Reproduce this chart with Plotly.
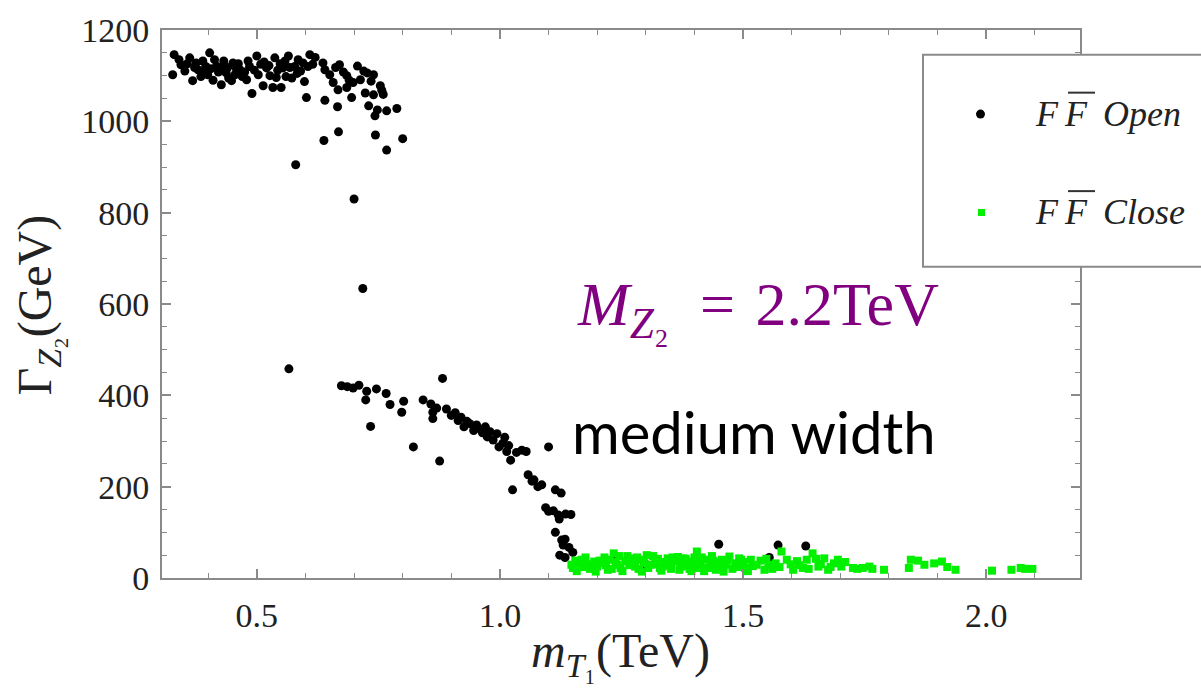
import plotly.graph_objects as go

# ---- data: top-partner mass m_T1 (TeV) vs Z2 width (GeV) ----
open_m = [
    0.330, 0.327, 0.344, 0.352, 0.362, 0.368, 0.372, 0.379, 0.385, 0.389,
    0.395, 0.403, 0.399, 0.410, 0.417, 0.421, 0.427, 0.432, 0.437, 0.442,
    0.451, 0.448, 0.458, 0.465, 0.470, 0.479, 0.485, 0.490, 0.500, 0.503,
    0.508, 0.513, 0.520, 0.527, 0.533, 0.537, 0.543, 0.550, 0.554, 0.560,
    0.565, 0.572, 0.578, 0.585, 0.590, 0.598, 0.602, 0.609, 0.615, 0.580,
    0.636, 0.640, 0.638, 0.640, 0.650, 0.657, 0.662, 0.667, 0.666, 0.668,
    0.670, 0.678, 0.685, 0.685, 0.690, 0.695, 0.698, 0.700, 0.707, 0.713,
    0.718, 0.720, 0.723, 0.727, 0.730, 0.735, 0.740, 0.740, 0.743, 0.744,
    0.748, 0.754, 0.757, 0.760, 0.767, 0.767, 0.788, 0.800,
    0.340, 0.357, 0.375, 0.392, 0.405, 0.413, 0.425, 0.440, 0.455, 0.462,
    0.475, 0.482, 0.495, 0.515, 0.525, 0.540, 0.548, 0.558, 0.568, 0.583,
    0.595, 0.605, 0.620,
    0.566, 0.674, 0.686, 0.698, 0.710, 0.726, 0.746, 0.724, 0.734, 0.766,
    0.774, 0.802, 0.798, 0.822, 0.842, 0.858, 0.862, 0.862, 0.876, 0.882,
    0.870, 0.890, 0.900, 0.908, 0.914, 0.920, 0.926, 0.932, 0.938, 0.946,
    0.952, 0.958, 0.964, 0.970, 0.974, 0.980, 0.986, 0.994, 0.998, 1.006,
    1.010, 1.014, 1.018, 1.022, 1.026, 1.034, 1.045, 1.054, 1.100, 1.058,
    1.066, 1.070, 1.078, 1.086, 1.094, 1.100, 1.110, 1.114, 1.126, 1.120,
    1.135, 1.146, 1.122, 1.114, 1.127, 1.134, 1.130, 1.142, 1.134, 1.150,
    1.123, 1.450, 1.572, 1.629, 1.554, 1.234, 1.380, 1.300,
]
open_width = [
    1146, 1102, 1124, 1110, 1139, 1089, 1118, 1113, 1098, 1132,
    1120, 1150, 1102, 1090, 1121, 1108, 1080, 1132, 1106, 1095,
    1128, 1089, 1115, 1113, 1098, 1091, 1120, 1061, 1143, 1102,
    1125, 1078, 1117, 1100, 1074, 1139, 1112, 1074, 1117, 1098,
    1143, 1095, 1120, 1135, 1110, 1087, 1052, 1146, 1125, 905,
    1128, 1113, 958, 1046, 1102, 1085, 1118, 1069, 1032, 977,
    1124, 1108, 1100, 1074, 1090, 1052, 1085, 830, 1121, 1091,
    634, 1110, 1062, 1106, 1034, 1088, 1102, 1058, 1012, 970,
    1025, 1078, 1068, 1059, 1023, 937, 1028, 962,
    1135, 1126, 1128, 1108, 1115, 1135, 1118, 1118, 1102, 1126,
    1108, 1132, 1112, 1130, 1122, 1096, 1126, 1132, 1118, 1105,
    1128, 1120, 1140,
    458, 421, 419, 416, 422, 409, 414, 390, 332, 404,
    380, 387, 363, 287, 390, 381, 363, 349, 256, 437,
    372, 370, 356, 362, 345, 352, 331, 343, 338, 323,
    335, 327, 318, 331, 309, 320, 302, 316, 287, 295,
    308, 277, 290, 258, 193, 275, 280, 277, 287, 226,
    212, 215, 200, 204, 154, 146, 147, 193, 186, 138,
    140, 139, 129, 100, 83, 85, 72, 67, 45, 56,
    50, 74, 72, 70, 45, 43, 38, 30,
]

close_m = [
    1.147, 1.163, 1.179, 1.194, 1.210, 1.226, 1.234, 1.242, 1.258, 1.270,
    1.278, 1.290, 1.302, 1.310, 1.321, 1.329, 1.345, 1.349, 1.361, 1.369,
    1.377, 1.385, 1.397, 1.405, 1.409, 1.425, 1.433, 1.444, 1.456, 1.464,
    1.472, 1.484, 1.492, 1.504, 1.516, 1.528, 1.544, 1.552, 1.567, 1.579,
    1.603, 1.611, 1.623, 1.631, 1.643, 1.655, 1.667, 1.675, 1.687, 1.702,
    1.726, 1.746, 1.766, 1.790, 1.845, 1.841, 1.873, 1.893, 1.909, 1.937,
    2.012, 2.052, 2.071, 2.095,
    1.150, 1.168, 1.185, 1.200, 1.215, 1.222, 1.248, 1.262, 1.285, 1.296,
    1.315, 1.335, 1.340, 1.355, 1.372, 1.390, 1.402, 1.415, 1.420, 1.438,
    1.450, 1.478, 1.500, 1.510, 1.536, 1.560, 1.590, 1.615, 1.660, 1.695,
    1.155, 1.158, 1.172, 1.176, 1.189, 1.197, 1.205, 1.218, 1.230, 1.238,
    1.245, 1.252, 1.266, 1.274, 1.282, 1.292, 1.305, 1.318, 1.325, 1.332,
    1.352, 1.358, 1.366, 1.374, 1.382, 1.394, 1.400, 1.412, 1.428, 1.436,
    1.446, 1.460, 1.468, 1.488, 1.496, 1.520, 1.548, 1.575, 1.598, 1.635,
    1.650, 1.680, 1.710, 1.735, 1.760, 1.860, 1.920, 2.080,
]
close_width = [
    29, 32, 29, 36, 32, 40, 54, 29, 37, 43,
    25, 40, 50, 29, 40, 22, 43, 29, 36, 18,
    43, 29, 36, 58, 22, 40, 29, 18, 40, 29,
    47, 32, 43, 22, 40, 29, 18, 29, 32, 58,
    18, 37, 22, 40, 54, 25, 43, 18, 32, 25,
    22, 22, 20, 18, 40, 22, 29, 32, 36, 18,
    16, 18, 22, 20,
    22, 40, 20, 25, 45, 18, 22, 48, 20, 33,
    48, 25, 35, 45, 30, 20, 28, 45, 15, 38,
    25, 20, 35, 15, 38, 20, 40, 28, 30, 40,
    38, 15, 24, 45, 30, 14, 38, 28, 20, 35,
    48, 15, 28, 38, 45, 14, 22, 30, 42, 16,
    20, 38, 46, 25, 42, 15, 45, 32, 22, 48,
    35, 14, 38, 24, 40, 26, 42, 24, 30, 20,
    42, 24, 35, 20, 25, 38, 24, 20,
]

x_ticks = [0.5, 1.0, 1.5, 2.0]
x_ticktext = ["0.5", "1.0", "1.5", "2.0"]
y_ticks = [0, 200, 400, 600, 800, 1000, 1200]

# ---- page geometry (pixels) ----
W, H = 1201, 688
L, R, T, B = 162, 1080, 27, 578
SERIF = "Liberation Serif"
FRAME = "#8a8a8a"
GREEN = "#00f000"


def px(xp):
    return (xp - L) / (R - L)


def py(yp):
    return (B - yp) / (B - T)


fig = go.Figure()
fig.add_trace(go.Scatter(
    x=open_m, y=open_width, mode="markers", name="FF̄ Open",
    marker=dict(symbol="circle", size=9, color="black"),
    showlegend=False,
))
fig.add_trace(go.Scatter(
    x=close_m, y=close_width, mode="markers", name="FF̄ Close",
    marker=dict(symbol="square", size=8, color=GREEN),
    showlegend=False,
))

axis_common = dict(
    showline=True, linecolor=FRAME, linewidth=2, mirror="allticks",
    ticks="inside", ticklen=9, tickwidth=1.5, tickcolor=FRAME,
    showgrid=False, zeroline=False,
    tickfont=dict(family=SERIF, size=34, color="#222222"),
)

fig.update_xaxes(
    range=[0.305, 2.193], tickvals=x_ticks, ticktext=x_ticktext,
    minor=dict(ticks="inside", dtick=0.1, tick0=0, ticklen=5,
               tickwidth=1.2, tickcolor=FRAME),
    ticklabelstandoff=6,
    **axis_common,
)
fig.update_yaxes(
    range=[0, 1200], tickvals=y_ticks,
    minor=dict(ticks="inside", dtick=50, tick0=0, ticklen=5,
               tickwidth=1.2, tickcolor=FRAME),
    ticklabelstandoff=4,
    **axis_common,
)

shapes = []
annotations = []

# legend frame drawn over the plot frame
shapes.append(dict(type="rect", xref="paper", yref="paper",
                   x0=px(923), x1=px(1215), y0=py(265), y1=py(52),
                   line=dict(color=FRAME, width=2), fillcolor="white",
                   layer="above"))
# legend markers
shapes.append(dict(type="circle", xref="paper", yref="paper",
                   x0=px(976), x1=px(985), y0=py(116), y1=py(107),
                   line=dict(width=0), fillcolor="black", layer="above"))
shapes.append(dict(type="rect", xref="paper", yref="paper",
                   x0=px(978), x1=px(985), y0=py(214), y1=py(207),
                   line=dict(width=0), fillcolor=GREEN, layer="above"))

legend_rows = [(111, 90, "Open"), (210, 189, "Close")]
for yc, ybar, word in legend_rows:
    for xl in (1033, 1062):
        annotations.append(dict(text="<i>F</i>", xref="paper", yref="paper",
                                x=px(xl), y=py(yc), xanchor="left",
                                yanchor="middle", showarrow=False,
                                font=dict(family=SERIF, size=36, color="#222")))
    annotations.append(dict(text=f"<i>{word}</i>", xref="paper", yref="paper",
                            x=px(1101), y=py(yc), xanchor="left",
                            yanchor="middle", showarrow=False,
                            font=dict(family=SERIF, size=36, color="#222")))
    shapes.append(dict(type="line", xref="paper", yref="paper",
                       x0=px(1068), x1=px(1095), y0=py(ybar), y1=py(ybar),
                       line=dict(color="#333", width=2), layer="above"))

# mass label and width label
annotations.append(dict(
    text="<i>M</i><sub><i>Z</i>₂</sub>\u2002=\u20042.2TeV",
    xref="paper", yref="paper",
    x=px(575), y=py(307), xanchor="left", yanchor="middle", showarrow=False,
    font=dict(family=SERIF, size=62, color="#800080")))
annotations.append(dict(
    text="medium width", xref="paper", yref="paper",
    x=px(570), y=py(431), xanchor="left", yanchor="middle", showarrow=False,
    font=dict(family="Lato", size=58, color="black")))

# axis titles
annotations.append(dict(
    text="<i>m</i><sub><i>T</i>₁</sub>(TeV)", xref="paper", yref="paper",
    x=px(620), y=py(654), xanchor="center", yanchor="middle",
    showarrow=False, font=dict(family=SERIF, size=48, color="#222")))
annotations.append(dict(
    text="Γ<sub><i>Z</i>₂</sub>(GeV)", xref="paper", yref="paper",
    x=px(38), y=py(303), xanchor="center", yanchor="middle",
    textangle=-90, showarrow=False,
    font=dict(family=SERIF, size=48, color="#222")))

fig.update_layout(
    width=W, height=H,
    margin=dict(l=L, r=W - R, t=T, b=H - B),
    paper_bgcolor="white", plot_bgcolor="white",
    shapes=shapes, annotations=annotations,
)

fig.write_html("out.html")
